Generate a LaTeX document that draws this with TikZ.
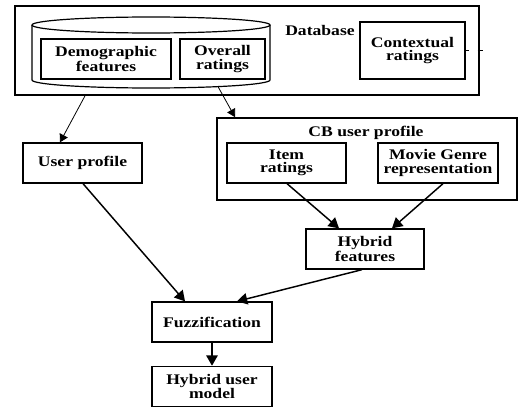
\documentclass[tikz,border=0pt]{standalone}
\usepackage{fontspec}
\setmainfont{Liberation Serif}[FakeStretch=1.2]
\usetikzlibrary{positioning,arrows}

\begin{document}
\begin{tikzpicture}[%
    x=0.75pt, y=-0.75pt,        % work on the pixel grid of the scan
    >=triangle 60,              % filled arrow heads
    node distance=17.25pt,      % gap under Fuzzification
    ]
\tikzset{
  base/.style={draw, line width=1pt, align=center, minimum height=30pt, inner sep=1pt,
    font=\fontsize{11}{10}\selectfont\bfseries},
  proc/.style={base, rectangle, minimum width=89.25pt},
  frame/.style={draw, line width=1.3pt, rectangle},
  lbl/.style={font=\fontsize{11}{10}\selectfont\bfseries},
  thin/.style={->, line width=0.6pt},
  flow/.style={->, line width=1.1pt},
}

\useasboundingbox (0,0) rectangle (518,407);

% database and its cylinder
\node [frame, minimum width=348pt, minimum height=66.75pt] (db) at (247,50.5) {};
\draw [line width=0.9pt] (32,25) -- (32,80)
  arc[start angle=180, end angle=360, x radius=89.25pt, y radius=6pt] -- (270,25);
\draw [line width=0.9pt] (151,25) ellipse [x radius=89.25pt, y radius=6pt];
\coordinate (cylb) at (218,86.6);

\node [proc, minimum width=97.5pt] (demo) at (106,59) {Demographic\\features};
\node [proc, minimum width=63.75pt] (overall) at (222.5,59) {Overall\\ratings};
\node [lbl] (dblabel) at (320,30) {Database};
\node [proc, minimum width=78.75pt, minimum height=42.75pt] (ctx) at (412.5,50.5) {Contextual\\ratings};

% content based profile
\node [frame, minimum width=225pt, minimum height=61.5pt] (cb) at (367,159) {};
\node [lbl] (cblabel) at (366,133) {CB user profile};
\node [proc] (item) at (286.5,163) {Item\\ratings};
\node [proc, minimum width=90pt] (genre) at (438,163) {Movie Genre\\representation};

\node [proc] (user) at (82.5,163) {User profile};
\node [proc, minimum width=88.5pt] (hyb) at (365,249) {Hybrid\\features};
\node [proc, minimum width=90pt] (fuzz) at (212,322) {Fuzzification};
\node [proc, minimum width=90pt, below=of fuzz] (model) {Hybrid user\\model};

\draw [line width=0.8pt, dash pattern=on 2.5pt off 6.5pt on 4pt] (ctx.east) -- ([xshift=2pt]db.east);

\draw [thin] ([xshift=-121.5pt]db.south) -- ([xshift=-16.9pt]user.north);
\draw [thin] (cylb) -- ([xshift=-99pt]cb.north);
\draw [flow] ([xshift=0.4pt]user.south) -- ([xshift=-20.25pt]fuzz.north);
\draw [flow] ([xshift=0.4pt]item.south) -- ([xshift=-19.5pt]hyb.north);
\draw [flow] ([xshift=3.75pt]genre.south) -- ([xshift=20.25pt]hyb.north);
\draw [flow] ([xshift=-2.25pt]hyb.south) -- ([xshift=18.75pt]fuzz.north);
\draw [flow] (fuzz.south) -- (model.north);

\end{tikzpicture}
\end{document}
